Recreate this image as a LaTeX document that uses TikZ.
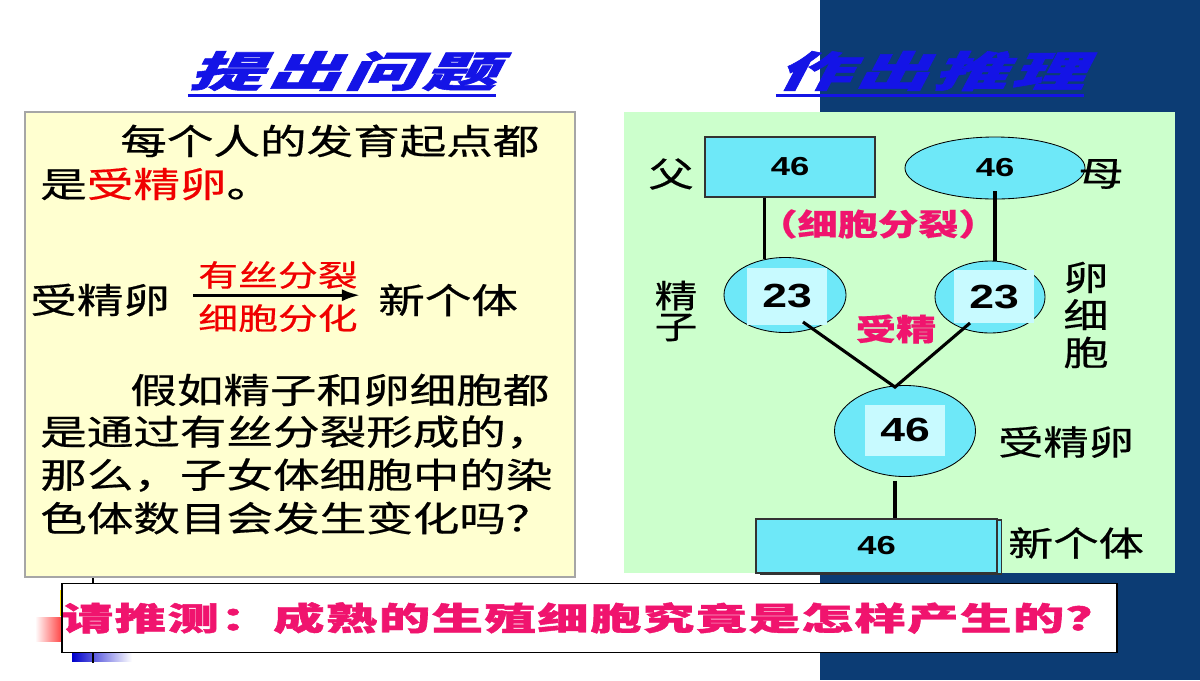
\documentclass[tikz,border=0pt]{standalone}
\usepackage{fontspec}
\usepackage{graphicx}
\setmainfont{Liberation Sans}
\newfontfamily\cjk{Noto Sans CJK SC}[FakeBold=0.5]
\newfontfamily\cjkask{Noto Sans CJK SC}[LetterSpace=3,FakeBold=1.3]
\newfontfamily\cjktitle{Noto Sans CJK SC}[FakeSlant=0.3,LetterSpace=6,FakeBold=1.3]
\usetikzlibrary{positioning}
\usetikzlibrary{shapes}
\usetikzlibrary{arrows.meta}
\usetikzlibrary{calc}

\definecolor{slidenavy}{RGB}{12,60,116}
\definecolor{panelgreen}{RGB}{204,255,204}
\definecolor{panelyellow}{RGB}{255,255,208}
\definecolor{cellcyan}{RGB}{110,232,248}
\definecolor{cellpale}{RGB}{200,250,255}
\definecolor{titleblue}{RGB}{20,20,230}
\definecolor{notepink}{RGB}{240,20,110}
\definecolor{notered}{RGB}{240,0,0}

\newcommand{\sx}[1]{\scalebox{1.33}[1]{#1}}

\begin{document}
\begin{tikzpicture}[x=0.025cm, y=-0.025cm,
    txt/.style={font=\cjk\fontsize{24.9}{26}\selectfont, inner sep=0, anchor=west},
    lbl/.style={font=\cjk\fontsize{24.2}{26}\selectfont, inner sep=0},
    pink/.style={font=\cjk\bfseries\fontsize{21.5}{22}\selectfont, text=notepink, inner sep=0},
    redtxt/.style={font=\cjk\fontsize{21.3}{22}\selectfont, text=notered, inner sep=0},
    head/.style={font=\cjktitle\bfseries\fontsize{29.9}{30}\selectfont, text=titleblue, inner sep=0},
    cell/.style={ellipse, draw=black, line width=0.6pt, fill=cellcyan, inner sep=0},
    core/.style={rectangle, fill=cellpale, inner sep=0, minimum width=2cm, font=\bfseries\fontsize{23.8}{24}\selectfont},
    body/.style={rectangle, draw=black!80, line width=0.8pt, fill=cellcyan, inner sep=0, font=\bfseries\fontsize{18.5}{19}\selectfont},
    link/.style={line width=2.2pt}]
    \fill[white] (0,0) rectangle (1200,680);
    \fill[slidenavy] (820,0) rectangle (1200,680);
    \draw[black!35, line width=1.2pt, fill=panelyellow] (25,112) rectangle (575,577);
    \fill[panelgreen] (624,112) rectangle (1175,573);

    % titles
    \node[head] (q) at (342,71) {\scalebox{1.75}[1]{提出问题}};
    \node[head] (r) at (930,71) {\scalebox{1.75}[1]{作出推理}};
    \draw[titleblue, line width=2.5pt] ([yshift=-3pt]q.south west) -- ([yshift=-3pt]q.south east);
    \draw[titleblue, line width=2.5pt] ([yshift=-3pt]r.south west) -- ([yshift=-3pt]r.south east);

    % question text
    \node[txt] (l1) at (120,141) {\sx{每个人的发育起点都}};
    \node[txt] (l2) at (40,184) {\sx{是\textcolor{notered}{受精卵}。}};
    \node[txt] (zl) at (30,300) {\sx{受精卵}};
    \node[txt] (xl) at (378,300) {\sx{新个体}};
    \draw[link, -{Latex[length=0.45cm, width=0.3cm]}, shorten <=0.575cm, shorten >=0.45cm]
        ([yshift=0.12cm]zl.east) -- ([yshift=0.12cm]xl.west);
    \node[redtxt] (m1) at (278,275) {\sx{有丝分裂}};
    \node[redtxt] (m2) at (278,318) {\sx{细胞分化}};
    \node[txt] (l4) at (130,390) {\sx{假如精子和卵细胞都}};
    \node[txt] (l5) at (40,432) {\sx{是通过有丝分裂形成的，}};
    \node[txt] (l6) at (40,475) {\sx{那么，子女体细胞中的染}};
    \node[txt] (l7) at (40,518) {\sx{色体数目会发生变化吗？}};

    % reasoning panel
    \node[body, minimum width=4.25cm, minimum height=1.5cm] (fa) at (790,167) {\sx{46}};
    \node[cell, minimum width=4.5cm, minimum height=1.55cm, font=\bfseries\fontsize{18.5}{19}\selectfont] (mo) at (995,168) {\sx{46}};
    \node[lbl] (fu) at (671,174) {\sx{父}};
    \node[lbl] (mu) at (1101,174) {\sx{母}};
    \node[pink] (div) at (878,224) {\sx{（细胞分裂）}};

    \node[cell, minimum width=3.05cm, minimum height=1.875cm] (sp) at (785,295) {};
    \node[core, minimum height=1.425cm] (spc) at (787,296) {\sx{23}};
    \node[cell, minimum width=2.75cm, minimum height=1.8cm] (eg) at (990,297) {};
    \node[core, minimum height=1.325cm] (egc) at (994,296.5) {\sx{23}};
    \node[lbl, align=center, font=\cjk\fontsize{22.8}{22}\selectfont] (jz) at (676,311) {\sx{精}\\\sx{子}};
    \node[lbl, align=center, font=\cjk\fontsize{24.2}{26.7}\selectfont] (lx) at (1086,315) {\sx{卵}\\\sx{细}\\\sx{胞}};
    \node[pink] (sj) at (896,329) {\sx{受精}};

    \node[cell, minimum width=3.525cm, minimum height=2.275cm] (zy) at (905,431) {};
    \node[core, minimum height=1.275cm] (zyc) at (905,430) {\sx{46}};
    \node[lbl] (zyl) at (1066,442) {\sx{受精卵}};
    \node[body, minimum width=6.025cm, minimum height=1.35cm] (nbs) at (881,547) {};
    \node[body, minimum width=6.025cm, minimum height=1.35cm] (nb) at (876.5,546) {\sx{46}};
    \node[lbl] (nbl) at (1076,543) {\sx{新个体}};

    \coordinate (spout) at ($(sp)+(18,27)$);
    \coordinate (egout) at ($(eg)+(-20,26)$);
    \coordinate (meet) at ($(zy.north)+(-10,2)$);
    \draw[link] (fa.south -| sp.120) -- (sp.120);
    \draw[link] ($(mo.south)+(0,-8)$) -- (mo.south |- eg.north);
    \draw[link] (spout) -- (meet) -- (egout);
    \draw[link] ($(meet |- zy.south)+(0,4)$) -- (meet |- nb.north);

    % note at the bottom
    \fill[yellow!85!orange] (60,590) rectangle (67,616);
    \shade[left color=white, right color=red!85] (35,617) rectangle (66,641);
    \shade[left color=blue!80!black, right color=white] (72,649) rectangle (132,661);
    \draw[line width=1.2pt] (93,578) -- (93,663);
    \node[draw=black, line width=1.2pt, fill=white, minimum width=26.275cm, minimum height=1.725cm, inner sep=0,
        font=\cjkask\bfseries\fontsize{22.8}{24}\selectfont, text=notepink] (ask) at (589.5,618)
        {\scalebox{1.6}[1]{请推测：成熟的生殖细胞究竟是怎样产生的？}};
\end{tikzpicture}
\end{document}
